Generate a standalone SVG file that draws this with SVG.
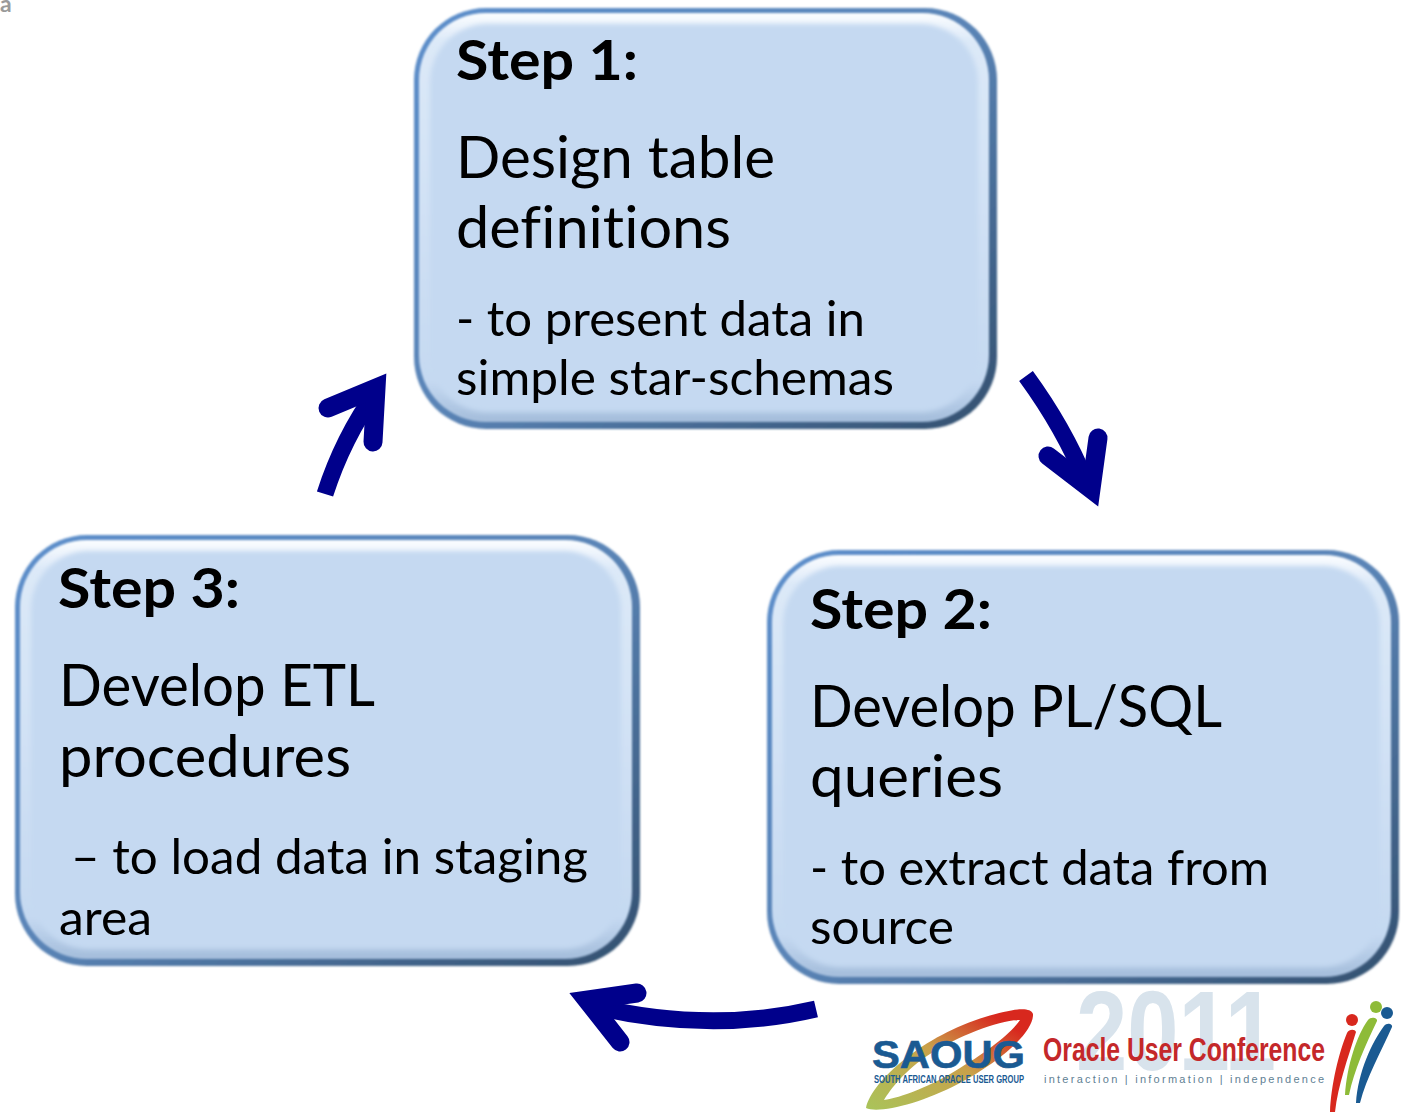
<svg xmlns="http://www.w3.org/2000/svg" width="1403" height="1112" viewBox="0 0 1403 1112">
<style>
text{font-family:"Lato","Liberation Sans",sans-serif;fill:#000;font-variant-ligatures:none}
.h{font-size:56px;font-weight:700}
.m{font-size:58px}
.s{font-size:48px}
.edge{fill:url(#edge)}
.bevel{fill:url(#bevel)}
.face{fill:#c5d9f1}
.arrow{fill:none;stroke:#00008b;stroke-width:17}
.tip{fill:none;stroke:#00008b;stroke-width:19;stroke-linecap:round;stroke-linejoin:miter;stroke-miterlimit:8}
.lg{font-family:"Liberation Sans",sans-serif}
</style>
<defs>
<linearGradient id="edge" x1="0" y1="0" x2="1" y2="1"><stop offset="0" stop-color="#5b8ecb"/><stop offset=".5" stop-color="#5a84b6"/><stop offset="1" stop-color="#33506f"/></linearGradient>
<linearGradient id="bevel" x1="0" y1="0" x2="0" y2="1"><stop offset="0" stop-color="#fbfdff"/><stop offset=".07" stop-color="#dce9f8"/><stop offset=".9" stop-color="#c5d9f1"/><stop offset="1" stop-color="#a4bddb"/></linearGradient>
<filter id="soft" x="-5%" y="-5%" width="110%" height="110%"><feGaussianBlur stdDeviation="2.5"/></filter>
<filter id="soft1" x="-5%" y="-5%" width="110%" height="110%"><feGaussianBlur stdDeviation=".8"/></filter>
<linearGradient id="swoosh" x1="0" y1="1" x2="1" y2="0"><stop offset="0" stop-color="#a9c45a"/><stop offset=".5" stop-color="#c9a14a"/><stop offset=".85" stop-color="#d8281e"/></linearGradient>
</defs>
<text x="0" y="12" style="font-size:23px;font-weight:700;fill:#9a9a9a">a</text>

<g id="connectors">
<g id="arrow-1-2"><path class="arrow" d="M1026 376Q1064 428 1086 482"/><path class="tip" d="M1098 438L1091 489L1048 456"/></g>
<g id="arrow-2-3"><path class="arrow" d="M816 1009Q710 1034 592 1006"/><path class="tip" d="M637 993L587 1000L620 1042"/></g>
<g id="arrow-3-1"><path class="arrow" d="M325 494Q343 438 376 392"/><path class="tip" d="M328 408L376 388L373 442"/></g>
</g>

<g id="step1">
<rect class="edge" x="414" y="8" width="583" height="421" rx="72" filter="url(#soft1)"/>
<rect class="bevel" x="419" y="13" width="570" height="409" rx="67" filter="url(#soft1)"/>
<rect class="face" x="430" y="24" width="548" height="388" rx="58" filter="url(#soft)"/>
<text class="h" x="456" y="80" textLength="182" lengthAdjust="spacingAndGlyphs">Step 1:</text>
<text class="m" x="456" y="178" textLength="319" lengthAdjust="spacingAndGlyphs">Design table</text>
<text class="m" x="456" y="248" textLength="275" lengthAdjust="spacingAndGlyphs">definitions</text>
<text class="s" x="456" y="336" textLength="409" lengthAdjust="spacingAndGlyphs">- to present data in</text>
<text class="s" x="456" y="395" textLength="438" lengthAdjust="spacingAndGlyphs">simple star-schemas</text>
</g>

<g id="step2">
<rect class="edge" x="767" y="550" width="632" height="434" rx="72" filter="url(#soft1)"/>
<rect class="bevel" x="772" y="555" width="619" height="422" rx="67" filter="url(#soft1)"/>
<rect class="face" x="783" y="566" width="597" height="401" rx="58" filter="url(#soft)"/>
<text class="h" x="810" y="629" textLength="182" lengthAdjust="spacingAndGlyphs">Step 2:</text>
<text class="m" x="810" y="727" textLength="412" lengthAdjust="spacingAndGlyphs">Develop PL/SQL</text>
<text class="m" x="810" y="797" textLength="193" lengthAdjust="spacingAndGlyphs">queries</text>
<text class="s" x="810" y="885" textLength="459" lengthAdjust="spacingAndGlyphs">- to extract data from</text>
<text class="s" x="810" y="944" textLength="144" lengthAdjust="spacingAndGlyphs">source</text>
</g>

<g id="step3">
<rect class="edge" x="15" y="535" width="625" height="431" rx="72" filter="url(#soft1)"/>
<rect class="bevel" x="20" y="540" width="612" height="419" rx="67" filter="url(#soft1)"/>
<rect class="face" x="31" y="551" width="590" height="398" rx="58" filter="url(#soft)"/>
<text class="h" x="58" y="608" textLength="182" lengthAdjust="spacingAndGlyphs">Step 3:</text>
<text class="m" x="59" y="706" textLength="316" lengthAdjust="spacingAndGlyphs">Develop ETL</text>
<text class="m" x="59" y="777" textLength="292" lengthAdjust="spacingAndGlyphs">procedures</text>
<text class="s" x="71" y="874" textLength="517" lengthAdjust="spacingAndGlyphs">– to load data in staging</text>
<text class="s" x="59" y="935" textLength="93" lengthAdjust="spacingAndGlyphs">area</text>
</g>

<g id="logo">
<text class="lg" x="1076" y="1070" style="font-size:114px;font-weight:700;fill:#d8e3ec" textLength="200" lengthAdjust="spacingAndGlyphs">2011</text>
<path fill-rule="evenodd" fill="url(#swoosh)" d="M866 1108C872 1080 925 1035 985 1017C1012 1009 1030 1006 1033 1014C1034 1032 1000 1062 958 1084C920 1104 878 1114 866 1108ZM884 1100C900 1098 932 1086 960 1068C990 1050 1012 1032 1020 1020C1000 1020 958 1036 930 1054C905 1070 890 1090 884 1100Z"/>
<text class="lg" x="872" y="1068" style="font-size:38px;font-weight:700;fill:#1a5a92;stroke:#1a5a92;stroke-width:.6" textLength="153" lengthAdjust="spacingAndGlyphs">SAOUG</text>
<text class="lg" x="874" y="1083" style="font-size:10.5px;font-weight:700;fill:#1a5a92" textLength="150" lengthAdjust="spacingAndGlyphs">SOUTH AFRICAN ORACLE USER GROUP</text>
<text class="lg" x="1043" y="1061" style="font-size:33px;font-weight:700;fill:#c4282a" textLength="282" lengthAdjust="spacingAndGlyphs">Oracle User Conference</text>
<text class="lg" x="1044" y="1083" style="font-size:11px;fill:#5f7f94" textLength="280" lengthAdjust="spacing">interaction | information | independence</text>
<path fill="#d8281e" d="M1330 1112C1331 1085 1339 1052 1347 1033C1349 1029 1355 1029 1356 1032C1348 1058 1338 1085 1335 1112Z"/>
<circle cx="1352" cy="1020" r="6" fill="#d8281e"/>
<path fill="#8ebb38" d="M1345 1095C1347 1065 1357 1035 1368 1020C1371 1016 1378 1018 1377 1021C1366 1044 1354 1070 1349 1095Z"/>
<circle cx="1376" cy="1007" r="6" fill="#8ebb38"/>
<path fill="#1a5a92" d="M1356 1103C1358 1072 1372 1042 1384 1026C1387 1022 1393 1024 1392 1027C1382 1050 1366 1078 1360 1103Z"/>
<circle cx="1387" cy="1013" r="6" fill="#1a5a92"/>
</g>
</svg>
